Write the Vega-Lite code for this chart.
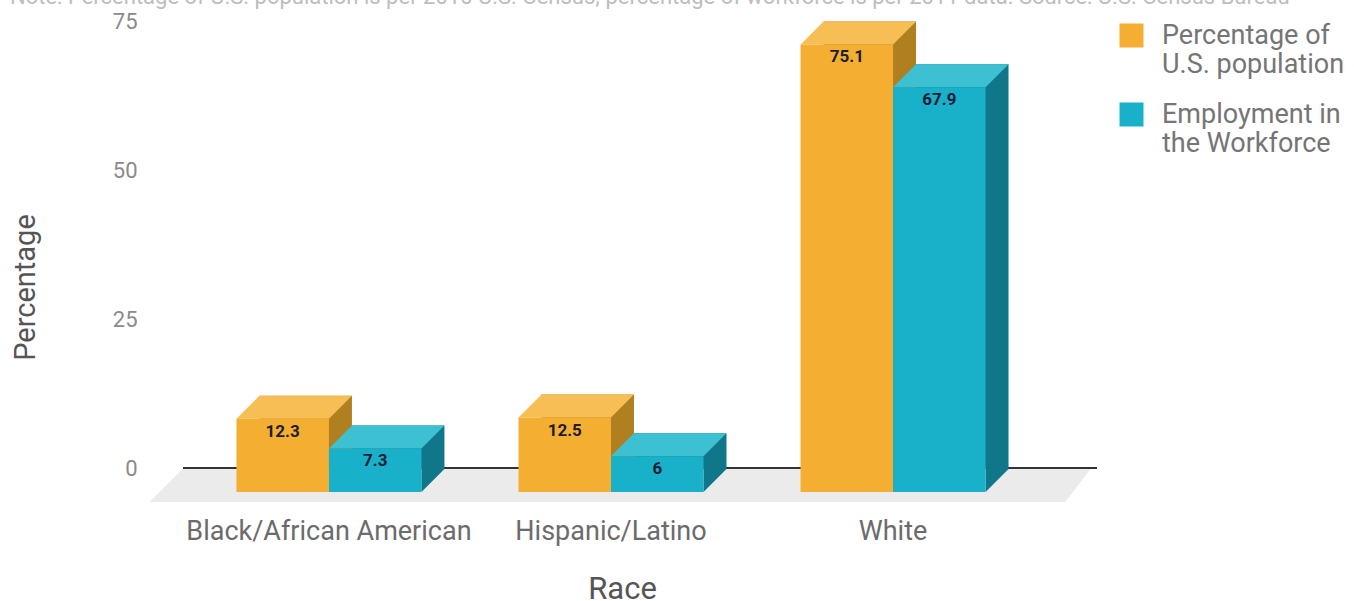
{
  "$schema": "https://vega.github.io/schema/vega-lite/v6.json",
  "autosize": {"type": "none"},
  "width": 902,
  "height": 447,
  "padding": {"left": 160, "top": 45, "right": 292, "bottom": 109},
  "background": "white",
  "config": {"font": "Roboto", "view": {"stroke": null}},
  "title": {
    "text": "Note: Percentage of U.S. population is per 2010 U.S. Census; percentage of workforce is per 2011 data. Source: U.S. Census Bureau",
    "anchor": "start",
    "frame": "group",
    "fontSize": 22,
    "fontWeight": "normal",
    "color": "#bdbdbd",
    "dx": -150,
    "dy": 20,
    "offset": 4,
    "baseline": "alphabetic"
  },
  "data": {
    "values": [
      {"race": "Black/African American", "series": "Percentage of U.S. population", "value": 12.3},
      {"race": "Black/African American", "series": "Employment in the Workforce", "value": 7.3},
      {"race": "Hispanic/Latino", "series": "Percentage of U.S. population", "value": 12.5},
      {"race": "Hispanic/Latino", "series": "Employment in the Workforce", "value": 6},
      {"race": "White", "series": "Percentage of U.S. population", "value": 75.1},
      {"race": "White", "series": "Employment in the Workforce", "value": 67.9}
    ]
  },
  "resolve": {"scale": {"xOffset": "independent"}},
  "encoding": {
    "x": {
      "field": "race",
      "type": "nominal",
      "sort": ["Black/African American", "Hispanic/Latino", "White"],
      "scale": {"paddingInner": 0.344, "paddingOuter": 0.271},
      "axis": {
        "title": "Race",
        "labelAngle": 0,
        "labelFontSize": 27,
        "labelColor": "#6b6b6b",
        "labelPadding": 26,
        "labelLimit": 500,
        "domain": false,
        "ticks": false,
        "grid": false,
        "titleFontSize": 31,
        "titleFontWeight": "normal",
        "titleColor": "#555555",
        "titleX": 462,
        "titleY": 97,
        "titleBaseline": "middle"
      }
    },
    "y": {
      "field": "value",
      "type": "quantitative",
      "scale": {"domain": [0, 75], "nice": false},
      "axis": {
        "title": "Percentage",
        "values": [0, 25, 50, 75],
        "labelFontSize": 22,
        "labelColor": "#8a8a8a",
        "labelOffset": -24,
        "labelPadding": 23,
        "domain": false,
        "ticks": false,
        "grid": false,
        "titleFontSize": 29,
        "titleFontWeight": "normal",
        "titleColor": "#555555",
        "titleAngle": -90,
        "titleX": -135,
        "titleY": 242,
        "titleAlign": "center",
        "titleBaseline": "middle"
      }
    },
    "xOffset": {
      "field": "series",
      "type": "nominal",
      "sort": ["Percentage of U.S. population", "Employment in the Workforce"],
      "scale": {"type": "band", "paddingInner": 0, "paddingOuter": 0}
    }
  },
  "layer": [
    {
      "mark": {"type": "point", "shape": "M -428 -23 L 479 -23 L 454 10 L -461 10 Z", "size": 4, "filled": true, "fill": "#ebebeb", "opacity": 1, "strokeWidth": 0},
      "encoding": {
        "x": {"datum": "Hispanic/Latino", "type": "nominal"},
        "y": {"datum": 0, "type": "quantitative"},
        "xOffset": null
      }
    },
    {
      "mark": {"type": "point", "shape": "M -428 -24 L 486 -24", "size": 4, "filled": false, "stroke": "#333333", "strokeWidth": 2, "opacity": 1},
      "encoding": {
        "x": {"datum": "Hispanic/Latino", "type": "nominal"},
        "y": {"datum": 0, "type": "quantitative"},
        "xOffset": null
      }
    },
    {
      "mark": {"type": "bar", "yOffset": -23, "y2Offset": -23},
      "encoding": {
        "xOffset": {
          "field": "series",
          "type": "nominal",
          "sort": ["Percentage of U.S. population", "Employment in the Workforce"],
          "scale": {"type": "band", "paddingInner": 0, "paddingOuter": 0, "range": [23, 208]}
        },
        "color": {"condition": {"test": "datum.series == 'Percentage of U.S. population'", "value": "#B07F20"}, "value": "#10778A"}
      }
    },
    {
      "mark": {"type": "point", "shape": "M 46.25 -23 L 69.25 -23 L 46.25 0 Z", "size": 4, "filled": true, "opacity": 1, "strokeWidth": 0},
      "encoding": {
        "y": {"datum": 0, "type": "quantitative"},
        "color": {"condition": {"test": "datum.series == 'Percentage of U.S. population'", "value": "#B07F20"}, "value": "#10778A"}
      }
    },
    {
      "mark": {"type": "point", "shape": "M -46.25 0 L 46.25 0 L 69.25 -23 L -23.25 -23 Z", "size": 4, "filled": true, "opacity": 1, "strokeWidth": 0},
      "encoding": {
        "color": {"condition": {"test": "datum.series == 'Percentage of U.S. population'", "value": "#F6BE55"}, "value": "#3EC0D3"}
      }
    },
    {
      "mark": {"type": "bar"},
      "encoding": {
        "color": {
          "field": "series",
          "type": "nominal",
          "scale": {"domain": ["Percentage of U.S. population", "Employment in the Workforce"], "range": ["#F4AF33", "#19B0C9"]},
          "legend": {
            "orient": "none",
            "legendX": 958,
            "legendY": -23,
            "title": null,
            "symbolType": "square",
            "symbolSize": 576,
            "symbolStrokeWidth": 0,
            "symbolOpacity": 1,
            "labelFontSize": 27,
            "labelColor": "#757575",
            "labelLimit": 400,
            "labelOffset": 17,
            "rowPadding": 22,
            "labelExpr": "datum.label == 'Percentage of U.S. population' ? ['Percentage of', 'U.S. population'] : ['Employment in', 'the Workforce']"
          }
        }
      }
    },
    {
      "mark": {"type": "text", "dy": 13, "baseline": "middle", "fontSize": 17, "fontWeight": "bold", "color": "#1d1d33"},
      "encoding": {
        "text": {"field": "value", "type": "quantitative"}
      }
    }
  ]
}
